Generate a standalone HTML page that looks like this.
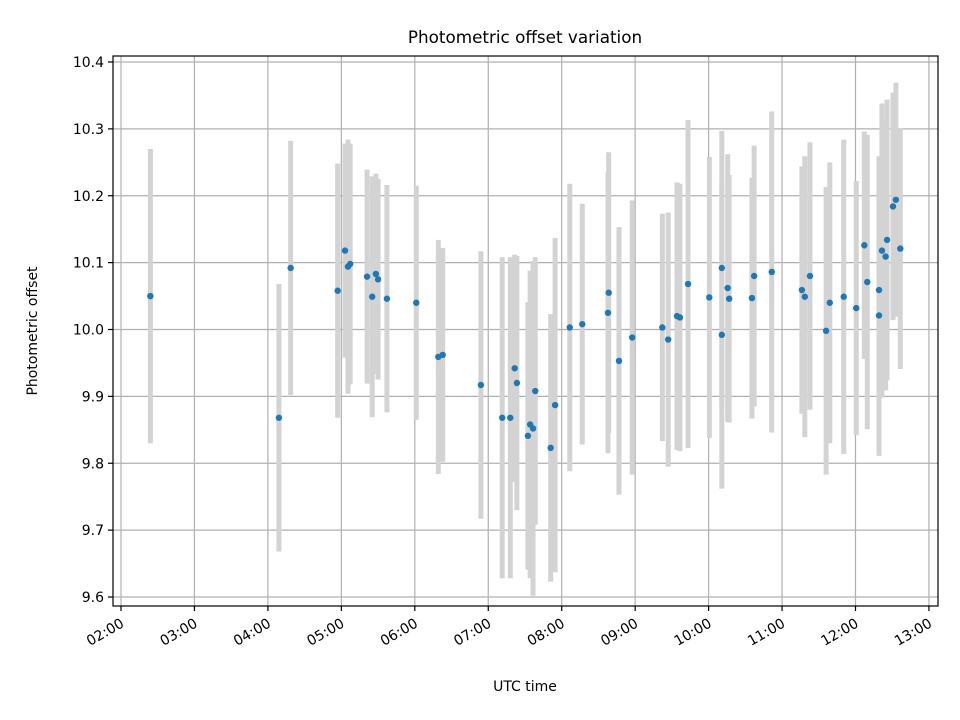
<!DOCTYPE html>
<html><head><meta charset="utf-8"><style>body{margin:0;background:#fff}svg{display:block;font-family:"DejaVu Sans","Liberation Sans",sans-serif}</style></head>
<body>
<svg id="chart" width="960" height="720" viewBox="0 0 960 720">
<rect width="960" height="720" fill="#fff"/>
<g id="grid"></g><g id="bars"></g><g id="pts"></g><g id="axes"></g>
<text x="525" y="43" text-anchor="middle" font-size="16.8">Photometric offset variation</text>
<text x="525" y="691" text-anchor="middle" font-size="14">UTC time</text>
<text transform="translate(37,331) rotate(-90)" text-anchor="middle" font-size="14">Photometric offset</text>
</svg>
<script>
const times=[2.40,4.15,4.31,4.95,5.05,5.09,5.12,5.35,5.42,5.47,5.50,5.62,6.02,6.32,6.38,6.90,7.19,7.30,7.36,7.39,7.54,7.57,7.61,7.64,7.85,7.91,8.11,8.28,8.63,8.64,8.78,8.96,9.37,9.45,9.57,9.61,9.72,10.01,10.18,10.18,10.26,10.28,10.59,10.62,10.86,11.27,11.31,11.38,11.60,11.65,11.84,12.01,12.12,12.16,12.32,12.32,12.36,12.41,12.43,12.51,12.55,12.61];
const offsets=[10.05,9.868,10.092,10.058,10.118,10.094,10.098,10.079,10.049,10.083,10.075,10.046,10.040,9.959,9.962,9.917,9.868,9.868,9.942,9.92,9.841,9.858,9.852,9.908,9.823,9.887,10.003,10.008,10.025,10.055,9.953,9.988,10.003,9.985,10.02,10.018,10.068,10.048,9.992,10.092,10.062,10.046,10.047,10.08,10.086,10.059,10.049,10.08,9.998,10.04,10.049,10.032,10.126,10.071,10.059,10.021,10.118,10.109,10.134,10.184,10.194,10.121];
const errors=[0.22,0.20,0.19,0.19,0.16,0.19,0.18,0.16,0.18,0.15,0.15,0.17,0.175,0.175,0.16,0.20,0.24,0.24,0.17,0.19,0.20,0.23,0.25,0.20,0.20,0.25,0.215,0.18,0.21,0.21,0.20,0.205,0.17,0.19,0.20,0.20,0.245,0.21,0.23,0.205,0.20,0.185,0.18,0.195,0.24,0.185,0.21,0.20,0.215,0.21,0.235,0.19,0.17,0.22,0.20,0.21,0.22,0.20,0.21,0.17,0.175,0.18];
const yTicks=[9.6,9.7,9.8,9.9,10.0,10.1,10.2,10.3,10.4];
const xTicks=[2,3,4,5,6,7,8,9,10,11,12,13];
const xTickLabels=["02:00","03:00","04:00","05:00","06:00","07:00","08:00","09:00","10:00","11:00","12:00","13:00"];
const L=113,R=938,T=56,B=606;
const xs=h=>121+(h-2)*73.45;
const ys=v=>62+(10.4-v)*668.75;
const NS="http://www.w3.org/2000/svg";
function mk(p,tag,a){const e=document.createElementNS(NS,tag);for(const k in a)e.setAttribute(k,a[k]);p.appendChild(e);return e;}
const g=document.getElementById('grid'),ax=document.getElementById('axes'),bars=document.getElementById('bars'),pts=document.getElementById('pts');
yTicks.forEach(v=>{const y=ys(v);
const gl=mk(g,'line',{x1:L,x2:R,y1:y,y2:y,stroke:'#b0b0b0','stroke-width':1.2});

mk(ax,'line',{x1:L-5,x2:L,y1:y,y2:y,stroke:'#000','stroke-width':1.2});
const t=mk(ax,'text',{x:L-9,y:y+5,'text-anchor':'end','font-size':14});t.textContent=v.toFixed(1);
});
xTicks.forEach((h,i)=>{const x=xs(h);
const gl=mk(g,'line',{x1:x,x2:x,y1:T,y2:B,stroke:'#b0b0b0','stroke-width':1.2});

mk(ax,'line',{x1:x,x2:x,y1:B,y2:B+5,stroke:'#000','stroke-width':1.2});
const t=mk(ax,'text',{transform:`translate(${x+4},${B+20}) rotate(-30)`,'text-anchor':'end','font-size':14});t.textContent=xTickLabels[i];
});
const fr=mk(ax,'rect',{x:L,y:T,width:R-L,height:B-T,fill:'none',stroke:'#000','stroke-width':1.2});

times.forEach((h,i)=>{const x=xs(h);
const b=mk(bars,'line',{x1:x,x2:x,y1:ys(offsets[i]+errors[i]),y2:ys(offsets[i]-errors[i]),stroke:'#d3d3d3','stroke-width':5});

const c=mk(pts,'circle',{cx:x,cy:ys(offsets[i]),r:3.2,fill:'#1f77b4'});
});
</script>
</body></html>
